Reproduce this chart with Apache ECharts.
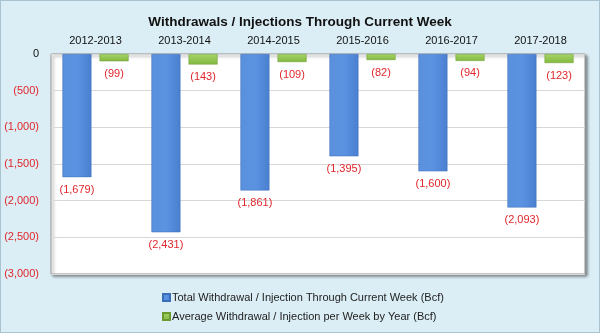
<!DOCTYPE html>
<html><head><meta charset="utf-8">
<script src="https://cdn.jsdelivr.net/npm/echarts@6/dist/echarts.min.js"></script>
<style>
html,body{margin:0;padding:0;background:#fff;}
#c{width:598px;height:331px;border:1px solid #a9c4d0;background:#dbeef5;}
</style></head>
<body><div id="c"></div>
<script>
const categories = ['2012-2013','2013-2014','2014-2015','2015-2016','2016-2017','2017-2018'];
const totalWithdrawal = [-1679,-2431,-1861,-1395,-1600,-2093];
const avgPerWeek = [-99,-143,-109,-82,-94,-123];
const seriesNames = ['Total Withdrawal / Injection Through Current Week (Bcf)','Average Withdrawal / Injection per Week by Year (Bcf)'];

function paren(v){
  if (v === 0) return '0';
  const s = Math.abs(v).toLocaleString('en-US');
  return v < 0 ? '(' + s + ')' : s;
}
const chart = echarts.init(document.getElementById('c'));
const font = 'Liberation Sans, Arial, sans-serif';
chart.setOption({
  animation:false,
  textStyle:{fontFamily:font},
  title:{text:'Withdrawals / Injections Through Current Week',left:'center',top:9,
    textStyle:{fontSize:13.5,fontWeight:'bold',color:'#111',fontFamily:font}},
  grid:{left:50,right:14,top:53,bottom:58,show:true,backgroundColor:'#fff',borderColor:'#9a9a9a',borderWidth:1,
    shadowColor:'rgba(0,0,0,0.45)',shadowBlur:3,shadowOffsetX:2,shadowOffsetY:2},
  legend:{orient:'vertical',left:156,top:286,itemWidth:7,itemHeight:7,itemGap:8,icon:'rect',
    textStyle:{fontSize:11,color:'#222',padding:[0,0,0,-3]}},
  xAxis:{type:'category',data:categories,position:'top',
    axisLine:{show:false},axisTick:{show:false},
    axisLabel:{fontSize:11,color:'#111',margin:8}},
  yAxis:{type:'value',min:-3000,max:0,interval:500,
    axisLine:{show:false},axisTick:{show:false},
    splitLine:{lineStyle:{color:'#d8d8d8'}},
    axisLabel:{fontSize:11,margin:12,formatter:paren,
      color:function(v){return Number(v)===0?'#111':'#e0262b';}}},
  series:[
    {name:seriesNames[0],type:'bar',data:totalWithdrawal,barWidth:29,barGap:'28%',
     itemStyle:{color:new echarts.graphic.LinearGradient(0,0,1,0,[{offset:0,color:'#5a90dc'},{offset:0.5,color:'#5b93e2'},{offset:1,color:'#4a7fcf'}]),borderColor:'#3c6db8',borderWidth:0.5},
     label:{show:true,position:'bottom',distance:7,color:'#e0262b',fontSize:11,formatter:p=>paren(p.value)}},
    {name:seriesNames[1],type:'bar',data:avgPerWeek,barWidth:29,
     itemStyle:{color:new echarts.graphic.LinearGradient(0,0,0,1,[{offset:0,color:'#a6d46a'},{offset:1,color:'#82b83e'}]),borderColor:'#6a9a30',borderWidth:0.5},
     label:{show:true,position:'bottom',distance:7,color:'#e0262b',fontSize:11,formatter:p=>paren(p.value)}}
  ]
});
</script></body></html>
